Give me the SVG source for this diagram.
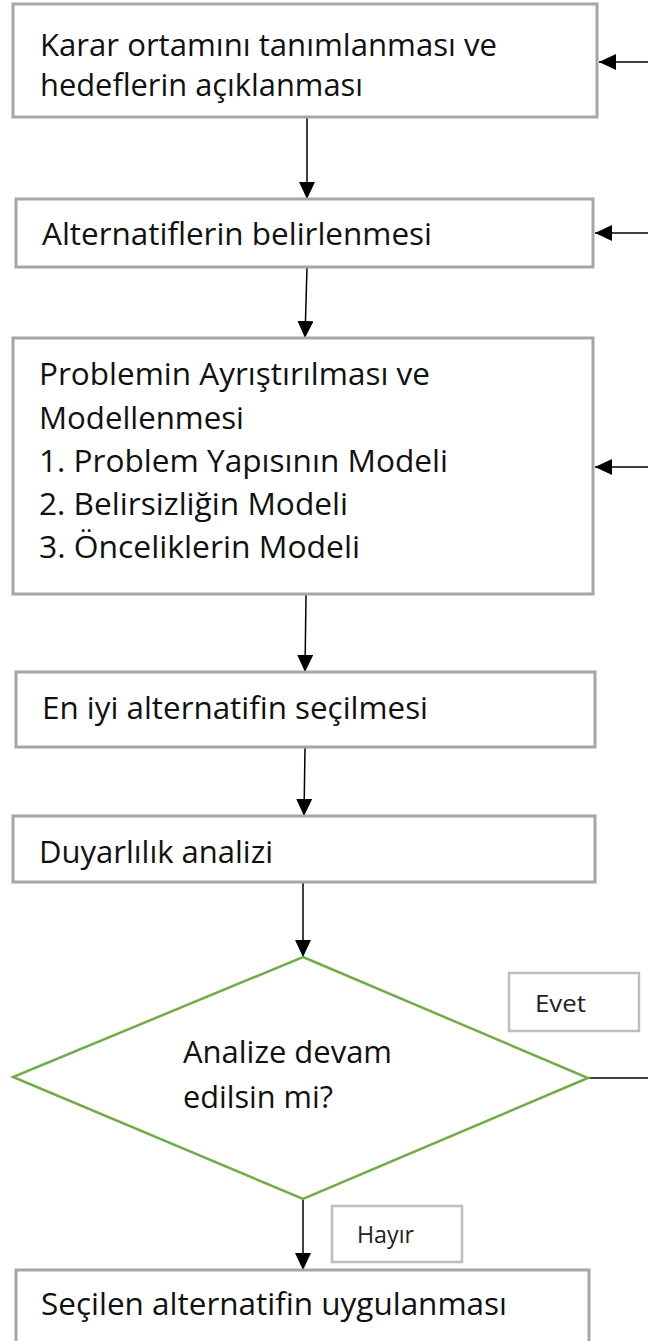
<svg xmlns="http://www.w3.org/2000/svg" width="648" height="1341" viewBox="0 0 648 1341">
  <style>
    .box { fill: #ffffff; stroke: #a6a6a6; stroke-width: 3; }
    .tag { fill: #ffffff; stroke: #bdbdbd; stroke-width: 2.5; }
    .decision { fill: #ffffff; stroke: #70ad47; stroke-width: 2.5; }
    .lbl { font-family: "Open Sans", "Noto Sans", "DejaVu Sans", sans-serif; font-size: 31px; fill: #111111; }
    .small { font-family: "Open Sans", "Noto Sans", "DejaVu Sans", sans-serif; font-size: 24px; fill: #222222; }
    .edge { fill: none; stroke: #000000; stroke-width: 1.5; }
  </style>
  <defs>
    <marker id="arrow" markerUnits="userSpaceOnUse" markerWidth="17" markerHeight="16" refX="17" refY="8" orient="auto">
      <path d="M0,0 L17,8 L0,16 z" fill="#000000"/>
    </marker>
  </defs>

  <rect width="648" height="1341" fill="#ffffff"/>

  <!-- connectors -->
  <g id="connectors">
    <path class="edge" d="M307,117 L307,199" marker-end="url(#arrow)"/>
    <path class="edge" d="M307,267 L305,338" marker-end="url(#arrow)"/>
    <path class="edge" d="M306,595 L305,672" marker-end="url(#arrow)"/>
    <path class="edge" d="M305,747 L304,816" marker-end="url(#arrow)"/>
    <path class="edge" d="M303,882 L303,957" marker-end="url(#arrow)"/>
    <path class="edge" d="M303,1199 L303,1270" marker-end="url(#arrow)"/>
    <path class="edge" d="M648,62 L599,62" marker-end="url(#arrow)"/>
    <path class="edge" d="M648,233 L595,233" marker-end="url(#arrow)"/>
    <path class="edge" d="M648,467 L595,467" marker-end="url(#arrow)"/>
    <path class="edge" d="M588,1078 L648,1078"/>
  </g>

  <!-- process steps -->
  <g id="step-karar">
    <rect class="box" x="13" y="4" width="584" height="113"/>
    <text class="lbl" x="40" y="56" textLength="457" lengthAdjust="spacingAndGlyphs">Karar ortamını tanımlanması ve</text>
    <text class="lbl" x="40" y="96" textLength="323" lengthAdjust="spacingAndGlyphs">hedeflerin açıklanması</text>
  </g>

  <g id="step-alternatifler">
    <rect class="box" x="16" y="199" width="577" height="68"/>
    <text class="lbl" x="42" y="245" textLength="390" lengthAdjust="spacingAndGlyphs">Alternatiflerin belirlenmesi</text>
  </g>

  <g id="step-model">
    <rect class="box" x="13" y="338" width="580" height="256"/>
    <text class="lbl" x="39" y="385" textLength="391" lengthAdjust="spacingAndGlyphs">Problemin Ayrıştırılması ve</text>
    <text class="lbl" x="39" y="429" textLength="205" lengthAdjust="spacingAndGlyphs">Modellenmesi</text>
    <text class="lbl" x="39" y="472" textLength="409" lengthAdjust="spacingAndGlyphs">1. Problem Yapısının Modeli</text>
    <text class="lbl" x="39" y="515" textLength="309" lengthAdjust="spacingAndGlyphs">2. Belirsizliğin Modeli</text>
    <text class="lbl" x="39" y="558" textLength="321" lengthAdjust="spacingAndGlyphs">3. Önceliklerin Modeli</text>
  </g>

  <g id="step-secim">
    <rect class="box" x="16" y="672" width="579" height="75"/>
    <text class="lbl" x="42" y="719" textLength="386" lengthAdjust="spacingAndGlyphs">En iyi alternatifin seçilmesi</text>
  </g>

  <g id="step-duyarlilik">
    <rect class="box" x="13" y="816" width="582" height="66"/>
    <text class="lbl" x="39" y="863" textLength="234" lengthAdjust="spacingAndGlyphs">Duyarlılık analizi</text>
  </g>

  <g id="decision-devam">
    <polygon class="decision" points="303,957 588,1078 303,1199 13,1077"/>
    <text class="lbl" x="183" y="1063" textLength="209" lengthAdjust="spacingAndGlyphs">Analize devam</text>
    <text class="lbl" x="183" y="1108" textLength="150" lengthAdjust="spacingAndGlyphs">edilsin mi?</text>
  </g>

  <g id="label-evet">
    <rect class="tag" x="509" y="973" width="130" height="58"/>
    <text class="small" x="535" y="1012" textLength="51" lengthAdjust="spacingAndGlyphs">Evet</text>
  </g>

  <g id="label-hayir">
    <rect class="tag" x="332" y="1206" width="130" height="56"/>
    <text class="small" x="357" y="1243" textLength="57" lengthAdjust="spacingAndGlyphs">Hayır</text>
  </g>

  <g id="step-uygulama">
    <rect class="box" x="16" y="1270" width="573" height="74"/>
    <text class="lbl" x="41" y="1315" textLength="466" lengthAdjust="spacingAndGlyphs">Seçilen alternatifin uygulanması</text>
  </g>
</svg>
